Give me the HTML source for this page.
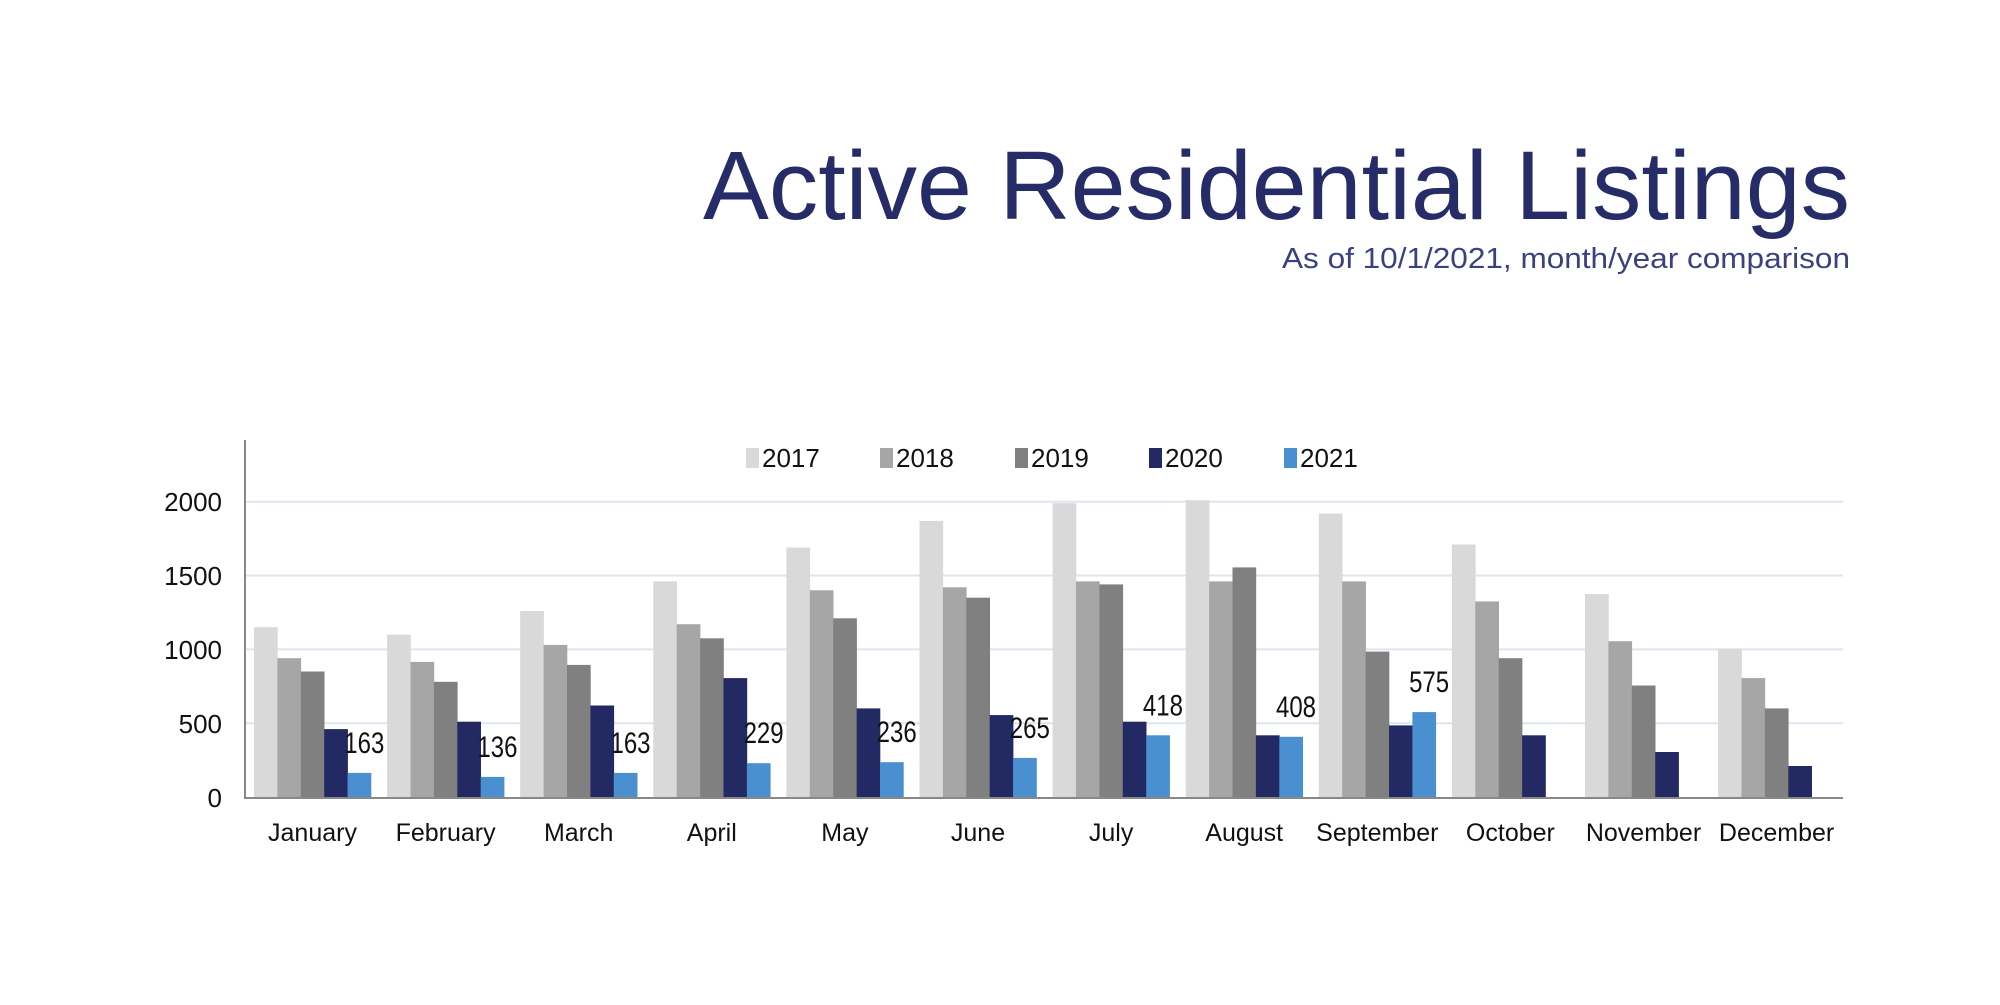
<!DOCTYPE html>
<html><head><meta charset="utf-8"><style>
body{margin:0;background:#fff;}
svg text{font-family:"Liberation Sans",sans-serif;}
</style></head><body>
<svg width="2000" height="1000" xmlns="http://www.w3.org/2000/svg">
<rect width="2000" height="1000" fill="#fff"/>
<text x="703" y="219" textLength="1147" lengthAdjust="spacingAndGlyphs" font-size="97" fill="#252c68">Active Residential Listings</text>
<text x="1282" y="268" textLength="568" lengthAdjust="spacingAndGlyphs" font-size="29" fill="#3a4080">As of 10/1/2021, month/year comparison</text>
<g stroke="#dde5ef" stroke-width="2">
<line x1="245" x2="1843" y1="501.7" y2="501.7"/>
<line x1="245" x2="1843" y1="575.5" y2="575.5"/>
<line x1="245" x2="1843" y1="649.4" y2="649.4"/>
<line x1="245" x2="1843" y1="723.2" y2="723.2"/>
</g>
<g font-size="26" fill="#111" text-anchor="end">
<text x="222" y="511">2000</text><text x="222" y="585">1500</text>
<text x="222" y="659">1000</text><text x="222" y="733">500</text><text x="222" y="807">0</text>
</g>
<g id="bars"></g>
<line x1="245" y1="440" x2="245" y2="798" stroke="#888" stroke-width="2"/>
<line x1="244" y1="798" x2="1843" y2="798" stroke="#888" stroke-width="2"/>
<g font-size="26" fill="#111">
<rect x="746" y="448" width="13" height="20" fill="#d9d9d9"/><text x="762" y="467">2017</text>
<rect x="880" y="448" width="13" height="20" fill="#a6a6a6"/><text x="896" y="467">2018</text>
<rect x="1015" y="448" width="13" height="20" fill="#808080"/><text x="1031" y="467">2019</text>
<rect x="1149" y="448" width="13" height="20" fill="#232a63"/><text x="1165" y="467">2020</text>
<rect x="1284" y="448" width="13" height="20" fill="#4a8fd0"/><text x="1300" y="467">2021</text>
</g>
<g id="lbl" font-size="25" fill="#111" text-anchor="middle"></g>
</svg>
<script>
var d=[[1150,940,850,460,163],[1100,915,780,510,136],[1260,1030,895,620,163],[1460,1170,1075,805,229],[1690,1400,1210,600,236],[1870,1420,1350,555,265],[1990,1460,1440,510,418],[2010,1460,1555,418,408],[1920,1460,985,485,575],[1710,1325,940,418,null],[1375,1055,755,305,null],[1005,805,600,210,null]];
var m=["January","February","March","April","May","June","July","August","September","October","November","December"];
var c=["#d9d9d9","#a6a6a6","#808080","#232a63","#4a8fd0"];
var s="",l="",k=0.14765,bw=23.4;
for(var i=0;i<12;i++){var x0=254+i*133.1;
for(var j=0;j<5;j++){var v=d[i][j];if(v==null)continue;var h=v*k;
s+='<rect x="'+(x0+j*bw).toFixed(1)+'" y="'+(797-h).toFixed(1)+'" width="'+(bw+0.3)+'" height="'+h.toFixed(1)+'" fill="'+c[j]+'"/>';
if(j==4)l+='<text font-size="30" transform="translate('+(x0+4*bw+bw/2+5).toFixed(1)+','+(797-h-20).toFixed(1)+') scale(0.8,1)">'+v+'</text>';}
l+='<text x="'+(x0+2.5*bw).toFixed(1)+'" y="841">'+m[i]+'</text>';}
document.getElementById("bars").innerHTML=s;document.getElementById("lbl").innerHTML=l;
</script>
</body></html>
